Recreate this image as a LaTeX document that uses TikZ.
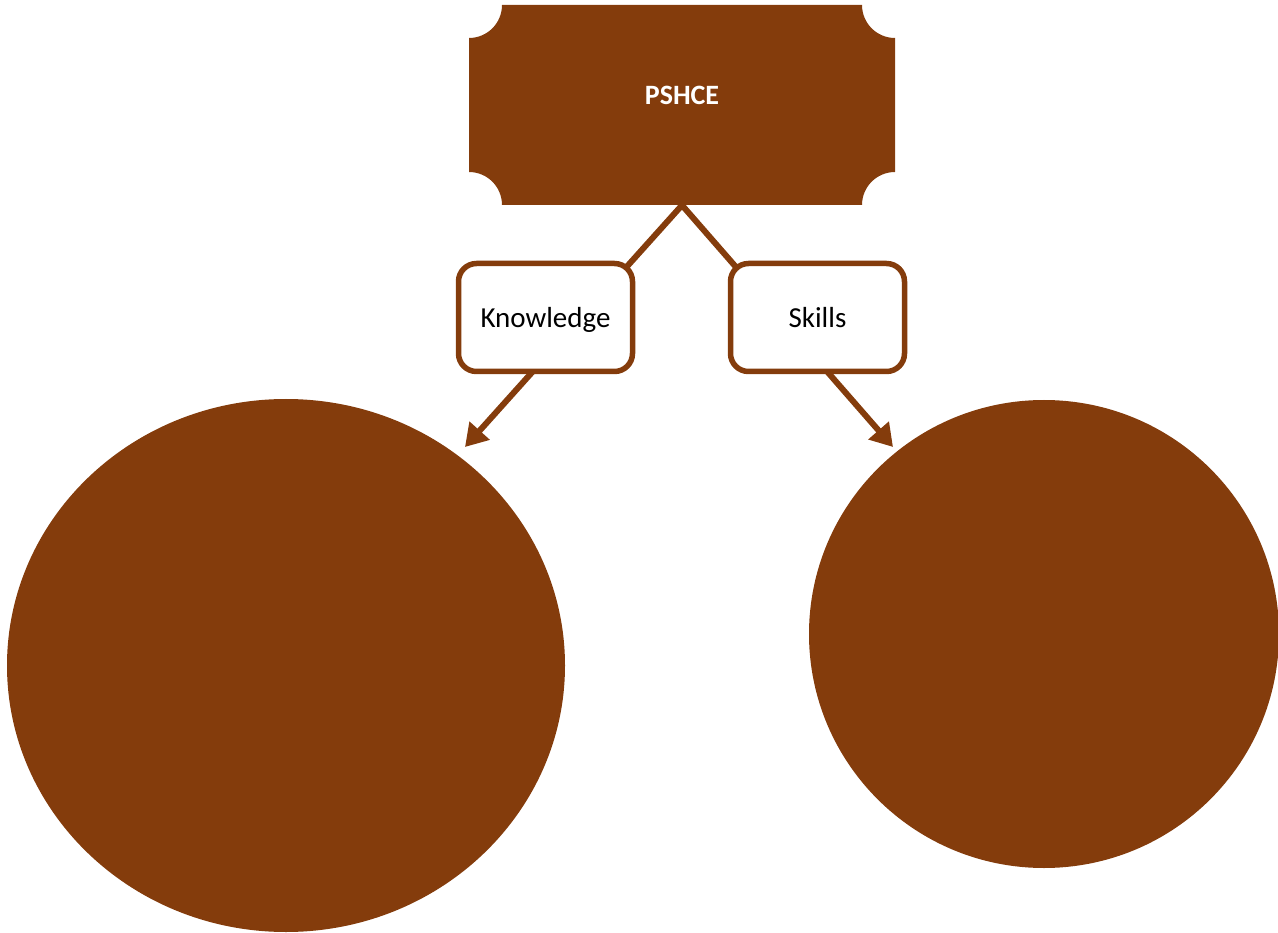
\documentclass[tikz,border=0pt]{standalone}
\usepackage{fontspec}
\setmainfont{Carlito}
\usetikzlibrary{arrows.meta,shapes.geometric}
\definecolor{brownc}{RGB}{132,60,12}
\begin{document}
\begin{tikzpicture}[x=1pt,y=-1pt,
  blob/.style={ellipse, fill=brownc, draw=none, inner sep=0pt},
  lbl/.style={draw=brownc, line width=5.5pt, fill=white, rounded corners=18pt, minimum width=174pt, minimum height=108pt, inner sep=0pt, text depth=0pt, font=\fontsize{29}{34}\selectfont},
  conn/.style={draw=brownc, line width=6pt, -{Triangle[length=22pt,width=26pt]}}]
\useasboundingbox (0,0) rectangle (1278,933);
% circles
\node[blob, minimum width=558pt, minimum height=533pt] (kc) at (286,665.5) {};
\node[blob, minimum width=470pt, minimum height=468pt] (sc) at (1044,634) {};
% top box
\fill[brownc] (502,5) -- (862,5) arc[start angle=180,end angle=90,radius=33]
  -- (895,172) arc[start angle=270,end angle=180,radius=33]
  -- (502,205) arc[start angle=0,end angle=-90,radius=33]
  -- (469,38) arc[start angle=90,end angle=0,radius=33] -- cycle;
\node[minimum width=426pt, minimum height=200pt, inner sep=0pt] (top) at (682,105) {};
\node[text=white, font=\fontsize{28}{33}\selectfont\bfseries] (toplbl) at (682,95) {PSHCE};
% connectors
\coordinate (ktip) at (465,447);
\coordinate (stip) at (893,447);
\draw[conn] (top.south) -- (ktip);
\draw[conn] (top.south) -- (stip);
% labels
\node[lbl] (know) at (545.5,317.5) {Knowledge};
\node[lbl] (skills) at (817.5,317.5) {Skills};
\end{tikzpicture}
\end{document}
